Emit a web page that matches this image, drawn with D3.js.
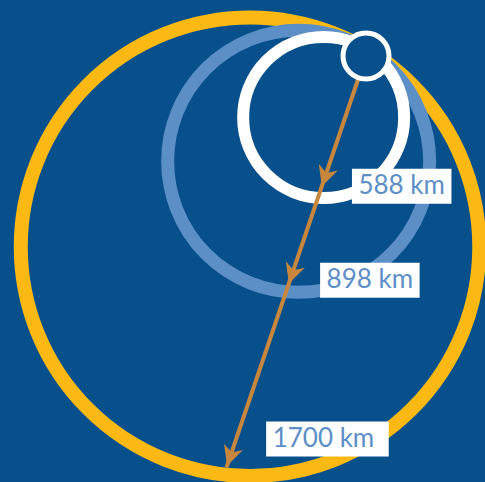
<!DOCTYPE html>
<html>
<head>
<meta charset="utf-8">
<script src="https://cdn.jsdelivr.net/npm/d3@7"></script>
<style>
  html, body { margin: 0; padding: 0; background: #08508c; overflow: hidden; }
  svg { display: block; }
</style>
</head>
<body>
<script>
var width = 485,
    height = 482;

// diameters of the three rings, in km
var diameters = [588, 898, 1700];
var labels = ['588 km', '898 km', '1700 km'];

var ringColors = ['#ffffff', '#5b8fc6', '#fdb913'],
    ringWidths = [12, 13, 14];

// the rings are drawn out of proportion in the original, so a piecewise scale
var radius = d3.scaleLinear()
    .domain(diameters)
    .range([80.5, 131, 229.25]);

// common tangent point and direction in which the ring centres lie
var tangent = [363.5, 47.5],
    dir = [-0.495, 0.869];

// start of the brown line and its direction
var origin = [366, 56],
    lineDir = [-141, 416];
var len = Math.hypot(lineDir[0], lineDir[1]);
lineDir = [lineDir[0] / len, lineDir[1] / len];

var labelNudge = [[0, 0], [0, 0], [8, -24]],
    labelExtra = [0, 0, 8];

var svg = d3.select('body')
    .append('svg')
    .attr('width', width)
    .attr('height', height);

svg.append('rect')
    .attr('width', width)
    .attr('height', height)
    .attr('fill', '#08508c');

var rings = diameters.map(function (d, i) {
    var r = radius(d);
    return {
        value: d,
        label: labels[i],
        r: r,
        cx: tangent[0] + dir[0] * r,
        cy: tangent[1] + dir[1] * r,
        color: ringColors[i],
        sw: ringWidths[i]
    };
});

// distance along the line to where it meets a circle of radius rr
function hit(ring, rr) {
    var sx = origin[0] - ring.cx,
        sy = origin[1] - ring.cy;
    var b = lineDir[0] * sx + lineDir[1] * sy;
    var c = sx * sx + sy * sy - rr * rr;
    return -b + Math.sqrt(b * b - c);
}

function along(t) {
    return [origin[0] + lineDir[0] * t, origin[1] + lineDir[1] * t];
}

svg.selectAll('circle.ring')
    .data(rings.slice().reverse())
    .enter()
    .append('circle')
    .attr('class', 'ring')
    .attr('cx', function (d) { return d.cx; })
    .attr('cy', function (d) { return d.cy; })
    .attr('r', function (d) { return d.r; })
    .attr('fill', 'none')
    .attr('stroke', function (d) { return d.color; })
    .attr('stroke-width', function (d) { return d.sw; });

var last = rings[rings.length - 1];
var end = along(hit(last, last.r - last.sw / 2));

svg.append('line')
    .attr('x1', origin[0])
    .attr('y1', origin[1])
    .attr('x2', end[0])
    .attr('y2', end[1])
    .attr('stroke', '#c8873d')
    .attr('stroke-width', 4);

var angle = Math.atan2(lineDir[1], lineDir[0]) * 180 / Math.PI;

svg.selectAll('path.arrow')
    .data(rings)
    .enter()
    .append('path')
    .attr('class', 'arrow')
    .attr('d', 'M0,0L-20,-10L-14,0L-20,10Z')
    .attr('fill', '#c8873d')
    .attr('transform', function (d, i) {
        var p = along(hit(d, d.r - d.sw / 2) - (i === 0 ? 6 : 2));
        return 'translate(' + p[0] + ',' + p[1] + ')rotate(' + angle + ')';
    });

var tags = svg.selectAll('g.tag')
    .data(rings)
    .enter()
    .append('g')
    .attr('class', 'tag')
    .attr('transform', function (d, i) {
        var p = along(hit(d, d.r));
        return 'translate(' + (p[0] + 34 + labelNudge[i][0]) + ',' + (p[1] - 29 + labelNudge[i][1]) + ')';
    });

tags.append('rect')
    .attr('height', 35)
    .attr('fill', '#ffffff');

var txt = tags.append('text')
    .attr('x', 6.5)
    .attr('y', 25)
    .attr('fill', '#5d8fc7')
    .style('font-family', 'Lato, "Open Sans", sans-serif')
    .style('font-size', '26px')
    .text(function (d) { return d.label; });

txt.each(function (d, i) {
    var w = this.getComputedTextLength();
    d3.select(this.parentNode).select('rect').attr('width', w + 13 + labelExtra[i]);
});

// the small circle where the line starts
svg.append('circle')
    .attr('cx', origin[0])
    .attr('cy', origin[1])
    .attr('r', 23)
    .attr('fill', '#08508c')
    .attr('stroke', '#ffffff')
    .attr('stroke-width', 5);
</script>
</body>
</html>
